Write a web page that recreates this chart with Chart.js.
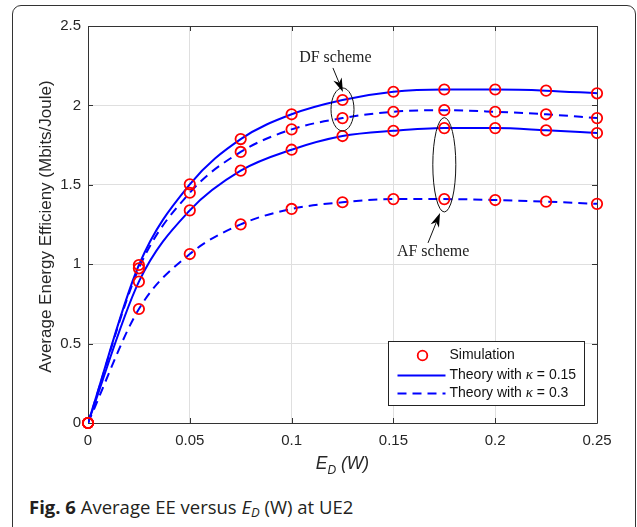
<!DOCTYPE html>
<html>
<head>
<meta charset="utf-8">
<script src="https://cdn.jsdelivr.net/npm/chart.js@4.4.1/dist/chart.umd.min.js"></script>
<style>
  html, body { margin: 0; padding: 0; background: #fff; width: 637px; height: 527px; overflow: hidden; }
  #frame { position: absolute; left: 12px; top: 5px; width: 622px; height: 600px; border: 1px solid #333; border-radius: 9px; }
  #wrap { position: absolute; left: 0; top: 0; width: 637px; height: 480px; }
  #caption { position: absolute; left: 29px; top: 494px; font-family: "Open Sans"; font-size: 18.5px; color: #231f20; white-space: nowrap; }
  #caption sub { font-size: 13px; vertical-align: -3px; }
</style>
</head>
<body>
<div id="frame"></div>
<div id="wrap"><canvas id="chart" width="637" height="480"></canvas></div>
<div id="caption"><b>Fig. 6</b> Average EE versus <i>E<sub>D</sub></i> (W) at UE2</div>

<script>
// データ
const edValues = [0, 0.025, 0.05, 0.075, 0.1, 0.125, 0.15, 0.175, 0.2, 0.225, 0.25];
const dfKappa015 = [0, 0.995, 1.503, 1.788, 1.944, 2.034, 2.086, 2.100, 2.100, 2.093, 2.076];
const dfKappa03  = [0, 0.974, 1.450, 1.707, 1.849, 1.920, 1.960, 1.970, 1.960, 1.944, 1.920];
const afKappa015 = [0, 0.890, 1.339, 1.589, 1.721, 1.807, 1.840, 1.857, 1.857, 1.843, 1.826];
const afKappa03  = [0, 0.718, 1.064, 1.251, 1.348, 1.390, 1.410, 1.410, 1.404, 1.394, 1.380];

const xTicks = [0, 0.05, 0.1, 0.15, 0.2, 0.25];
const xTickLabels = ["0", "0.05", "0.1", "0.15", "0.2", "0.25"];
const yTicks = [0, 0.5, 1, 1.5, 2, 2.5];
const yTickLabels = ["0", "0.5", "1", "1.5", "2", "2.5"];

const series = [
  { values: dfKappa015, dashed: false },
  { values: dfKappa03, dashed: true },
  { values: afKappa015, dashed: false },
  { values: afKappa03, dashed: true }
];

// 注釈 (データ座標)
const dfNote = { text: "DF scheme", x: 0.1215, y: 2.30, arrowFrom: [0.1203, 2.236], arrowTo: [0.1252, 2.084], ellipse: { x: 0.125, yLow: 1.839, yHigh: 2.11 } };
const afNote = { text: "AF scheme", x: 0.1695, y: 1.077, arrowFrom: [0.167, 1.134], arrowTo: [0.1729, 1.322], ellipse: { x: 0.175, yLow: 1.329, yHigh: 1.923 } };

const BLUE = "#0000ff";
const RED = "#ff0000";
const AXIS = "#333333";
const TEXT = "#262626";
const SANS = "'Liberation Sans', Arial, sans-serif";
const SERIF = "'Liberation Serif', 'Times New Roman', serif";

const toPoints = (vals) => vals.map((v, i) => ({ x: edValues[i], y: v }));

const lineSets = series.map((s) => ({
  data: toPoints(s.values),
  borderColor: BLUE,
  borderWidth: 2,
  borderDash: s.dashed ? [9, 6] : [],
  pointRadius: 0,
  fill: false,
  cubicInterpolationMode: "monotone",
  order: 2
}));

const markerSets = series.map((s) => ({
  data: toPoints(s.values),
  showLine: false,
  pointStyle: "circle",
  pointRadius: 5.2,
  pointBorderWidth: 1.8,
  pointBorderColor: RED,
  pointBackgroundColor: "rgba(0,0,0,0)",
  clip: false,
  order: 1
}));

// 枠・目盛り・注釈・凡例を描くプラグイン
const decorations = {
  id: "decorations",
  beforeDatasetsDraw(chart) {
    const { ctx, chartArea: a, scales } = chart;
    ctx.save();
    ctx.strokeStyle = AXIS;
    ctx.lineWidth = 1;
    ctx.beginPath();
    ctx.rect(Math.round(a.left) + 0.5, Math.round(a.top) + 0.5, Math.round(a.right - a.left), Math.round(a.bottom - a.top));
    ctx.stroke();
    // 内向きの目盛り
    const tl = 5;
    ctx.beginPath();
    xTicks.forEach((v) => {
      const px = Math.round(scales.x.getPixelForValue(v)) + 0.5;
      ctx.moveTo(px, a.bottom); ctx.lineTo(px, a.bottom - tl);
      ctx.moveTo(px, a.top); ctx.lineTo(px, a.top + tl);
    });
    yTicks.forEach((v) => {
      const py = Math.round(scales.y.getPixelForValue(v)) + 0.5;
      ctx.moveTo(a.left, py); ctx.lineTo(a.left + tl, py);
      ctx.moveTo(a.right, py); ctx.lineTo(a.right - tl, py);
    });
    ctx.stroke();
    ctx.restore();
  },
  afterDatasetsDraw(chart) {
    const { ctx, chartArea: a, scales } = chart;
    const sx = (v) => scales.x.getPixelForValue(v);
    const sy = (v) => scales.y.getPixelForValue(v);
    ctx.save();

    // 注釈
    [dfNote, afNote].forEach((n) => {
      ctx.fillStyle = "#222";
      ctx.font = "16px " + SERIF;
      ctx.textAlign = "center";
      ctx.textBaseline = "middle";
      ctx.fillText(n.text, sx(n.x), sy(n.y));

      const e = n.ellipse;
      const y1 = sy(e.yHigh), y2 = sy(e.yLow);
      ctx.strokeStyle = "#111";
      ctx.lineWidth = 1;
      ctx.beginPath();
      ctx.ellipse(sx(e.x), (y1 + y2) / 2, 11.5, (y2 - y1) / 2, 0, 0, Math.PI * 2);
      ctx.stroke();

      const x0 = sx(n.arrowFrom[0]), y0 = sy(n.arrowFrom[1]);
      const xt = sx(n.arrowTo[0]), yt = sy(n.arrowTo[1]);
      const ang = Math.atan2(yt - y0, xt - x0);
      const len = 14, half = 4.5, back = 10;
      ctx.beginPath();
      ctx.moveTo(x0, y0);
      ctx.lineTo(xt - back * Math.cos(ang), yt - back * Math.sin(ang));
      ctx.stroke();
      ctx.fillStyle = "#000";
      ctx.beginPath();
      ctx.moveTo(xt, yt);
      ctx.lineTo(xt - len * Math.cos(ang) + half * Math.sin(ang), yt - len * Math.sin(ang) - half * Math.cos(ang));
      ctx.lineTo(xt - back * Math.cos(ang), yt - back * Math.sin(ang));
      ctx.lineTo(xt - len * Math.cos(ang) - half * Math.sin(ang), yt - len * Math.sin(ang) + half * Math.cos(ang));
      ctx.closePath();
      ctx.fill();
    });

    // 凡例
    const bw = 196, bh = 64;
    const bx = Math.round(a.right - 13 - bw) + 0.5, by = Math.round(a.bottom - 18 - bh) + 0.5;
    ctx.fillStyle = "#fff";
    ctx.fillRect(bx, by, bw, bh);
    ctx.strokeStyle = "#222";
    ctx.lineWidth = 1;
    ctx.strokeRect(bx, by, bw, bh);

    const rows = [by + 14, by + 34, by + 52];
    ctx.strokeStyle = RED;
    ctx.lineWidth = 1.8;
    ctx.beginPath();
    ctx.arc(bx + 34, rows[0], 4.8, 0, Math.PI * 2);
    ctx.stroke();

    ctx.strokeStyle = BLUE;
    ctx.lineWidth = 2;
    ctx.beginPath();
    ctx.moveTo(bx + 9, rows[1]); ctx.lineTo(bx + 57, rows[1]);
    ctx.stroke();
    ctx.setLineDash([9, 6]);
    ctx.beginPath();
    ctx.moveTo(bx + 9, rows[2]); ctx.lineTo(bx + 57, rows[2]);
    ctx.stroke();
    ctx.setLineDash([]);

    ctx.fillStyle = "#111";
    ctx.textAlign = "left";
    ctx.textBaseline = "middle";
    const tx = bx + 61;
    ctx.font = "14px " + SANS;
    ctx.fillText("Simulation", tx, rows[0]);
    [" = 0.15", " = 0.3"].forEach((tail, i) => {
      let x = tx;
      ctx.font = "14px " + SANS;
      ctx.fillText("Theory with ", x, rows[i + 1]);
      x += ctx.measureText("Theory with ").width;
      ctx.font = "italic 15px " + SERIF;
      ctx.fillText("\u03ba", x, rows[i + 1]);
      x += ctx.measureText("\u03ba").width;
      ctx.font = "14px " + SANS;
      ctx.fillText(tail, x, rows[i + 1]);
    });

    // 軸タイトル
    ctx.fillStyle = TEXT;
    ctx.save();
    ctx.translate(46, (a.top + a.bottom) / 2 + 2);
    ctx.rotate(-Math.PI / 2);
    ctx.textAlign = "center";
    ctx.font = "17px " + SANS;
    ctx.fillText("Average Energy Efficieny (Mbits/Joule)", 0, 0);
    ctx.restore();

    ctx.textAlign = "left";
    ctx.textBaseline = "alphabetic";
    const fMain = "italic 17.5px " + SANS, fSub = "italic 12px " + SANS;
    ctx.font = fMain; const wE = ctx.measureText("E").width;
    ctx.font = fSub; const wD = ctx.measureText("D").width;
    ctx.font = fMain; const wW = ctx.measureText(" (W)").width;
    let x = (a.left + a.right) / 2 - (wE + wD + wW) / 2;
    const base = a.bottom + 46;
    ctx.font = fMain; ctx.fillText("E", x, base); x += wE;
    ctx.font = fSub; ctx.fillText("D", x, base + 5); x += wD;
    ctx.font = fMain; ctx.fillText(" (W)", x, base);

    ctx.restore();
  }
};

const ctx = document.getElementById("chart").getContext("2d");
new Chart(ctx, {
  type: "line",
  data: { datasets: [...markerSets, ...lineSets] },
  options: {
    responsive: false,
    animation: false,
    layout: { padding: { top: 26, right: 40, left: 0, bottom: 0 } },
    plugins: { legend: { display: false }, tooltip: { enabled: false } },
    scales: {
      x: {
        type: "linear",
        min: 0,
        max: 0.25,
        afterBuildTicks: (s) => { s.ticks = xTicks.map((v) => ({ value: v })); },
        afterFit: (s) => { s.height = 57; },
        grid: { color: "#dfdfdf", drawTicks: false },
        border: { display: false },
        ticks: {
          padding: 9,
          color: TEXT,
          font: { family: SANS, size: 15 },
          callback: (v, i) => xTickLabels[i]
        }
      },
      y: {
        min: 0,
        max: 2.5,
        afterBuildTicks: (s) => { s.ticks = yTicks.map((v) => ({ value: v })); },
        afterFit: (s) => { s.width = 88; },
        grid: { color: "#dfdfdf", drawTicks: false },
        border: { display: false },
        ticks: {
          padding: 7,
          color: TEXT,
          font: { family: SANS, size: 15 },
          callback: (v, i) => yTickLabels[i]
        }
      }
    }
  },
  plugins: [decorations]
});
</script>
</body>
</html>
